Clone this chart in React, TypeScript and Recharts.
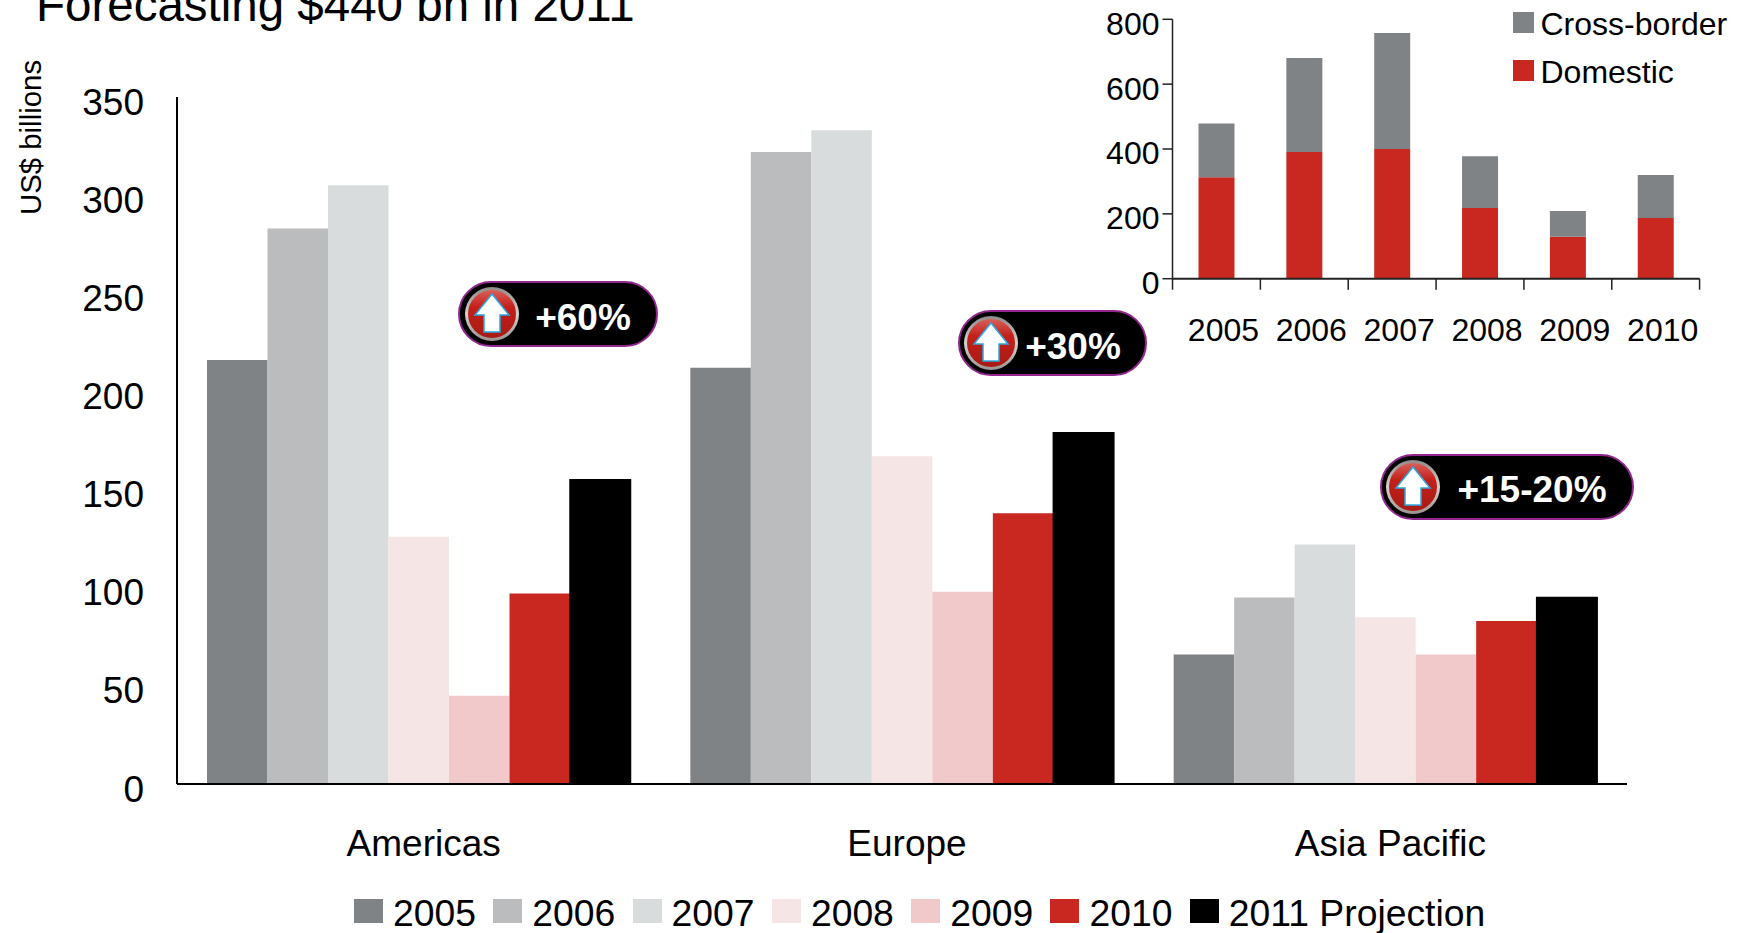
import { BarChart, Bar, XAxis, YAxis, Legend } from 'recharts'

const FONT = '"Liberation Sans", Arial, sans-serif'
const RED = '#C92820'
const GREY = '#808385'

const regions = ['Americas', 'Europe', 'Asia Pacific']
const yearKeys = ['y2005', 'y2006', 'y2007', 'y2008', 'y2009', 'y2010', 'y2011']
const yearNames = ['2005', '2006', '2007', '2008', '2009', '2010', '2011 Projection']
const yearColors = [GREY, '#BBBCBE', '#D9DCDD', '#F6E5E5', '#F1C9CB', RED, '#000000']
const values2005 = [216, 212, 66]
const values2006 = [283, 322, 95]
const values2007 = [305, 333, 122]
const values2008 = [126, 167, 85]
const values2009 = [45, 98, 66]
const values2010 = [97, 138, 83]
const values2011 = [155, 179, 95]
const yearValues = [values2005, values2006, values2007, values2008, values2009, values2010, values2011]
const regionTicks = [0, 50, 100, 150, 200, 250, 300, 350]

const insetYears = ['2005', '2006', '2007', '2008', '2009', '2010']
const domestic = [313, 391, 400, 218, 129, 187]
const crossBorder = [166, 290, 358, 160, 80, 133]
const insetTicks = [0, 200, 400, 600, 800]

const regionData = regions.map((region, i) => {
    const row: Record<string, string | number> = { region }
    yearKeys.forEach((key, k) => {
        row[key] = yearValues[k][i]
    })
    return row
})

const insetData = insetYears.map((year, i) => ({
    year,
    domestic: domestic[i],
    crossBorder: crossBorder[i]
}))

const badgeLabels = ['+60%', '+30%', '+15-20%']
const badgeBoxes = [
    { x: 459, y: 282, w: 198, h: 64, iconX: 492, textX: 583, textY: 16 },
    { x: 959, y: 311, w: 187, h: 64, iconX: 991, textX: 1073, textY: 16 },
    { x: 1381, y: 455, w: 252, h: 64, iconX: 1413, textX: 1532, textY: 15 }
]

const INSET_BAND = 87.8

function MainLegend({ payload }: any) {
    return (
        <div style={{ display: 'flex', fontFamily: FONT, fontSize: 37.3, color: '#000', whiteSpace: 'nowrap' }}>
            {(payload || []).map((item: any) => (
                <div key={item.value} style={{ width: 139.3, flex: 'none', display: 'flex', height: 24 }}>
                    <span style={{ width: 29, height: 24, background: item.color, marginRight: 10, flex: 'none' }} />
                    <span style={{ lineHeight: '28px' }}>{item.value}</span>
                </div>
            ))}
        </div>
    )
}

function InsetLegend({ payload }: any) {
    return (
        <div style={{ fontFamily: FONT, fontSize: 32, color: '#000', whiteSpace: 'nowrap' }}>
            {(payload || []).map((item: any) => (
                <div key={item.value} style={{ display: 'flex', height: 48 }}>
                    <span style={{ width: 21, height: 21, background: item.color, marginRight: 6.5, flex: 'none' }} />
                    <span style={{ lineHeight: '25px' }}>{item.value}</span>
                </div>
            ))}
        </div>
    )
}

// labels sit right of the band centre and the tick marks on the band edges
function InsetTick({ x, y, index, payload }: any) {
    const left = x - INSET_BAND / 2
    return (
        <g>
            <line x1={left} x2={left} y1={y} y2={y + 11} stroke="#222" strokeWidth={1.5} />
            {index === insetYears.length - 1 && (
                <line x1={left + INSET_BAND} x2={left + INSET_BAND} y1={y} y2={y + 11} stroke="#222" strokeWidth={1.5} />
            )}
            <text x={x + 7} y={y + 62} textAnchor="middle" fontFamily={FONT} fontSize={32} fill="#000">
                {payload.value}
            </text>
        </g>
    )
}

function Badge({ label, box }: { label: string; box: (typeof badgeBoxes)[number] }) {
    const cy = box.y + box.h / 2
    return (
        <g>
            <rect x={box.x} y={box.y} width={box.w} height={box.h} rx={box.h / 2} fill="#000" stroke="#93278F" strokeWidth={2} />
            <circle cx={box.iconX} cy={cy} r={27} fill="url(#ringFill)" />
            <circle cx={box.iconX} cy={cy} r={24} fill="url(#discFill)" />
            <path
                transform={`translate(${box.iconX} ${cy})`}
                d="M0 -20 L17 1 L8 1 L8 18 L-8 18 L-8 1 L-17 1 Z"
                fill="#fff"
                stroke="#2AA9E0"
                strokeWidth={1.5}
            />
            <text x={box.textX} y={cy + box.textY} textAnchor="middle" fontFamily={FONT} fontSize={37} fontWeight={700} fill="#fff">
                {label}
            </text>
        </g>
    )
}

export default function App() {
    return (
        <div style={{ position: 'absolute', left: 0, top: 0, width: 1740, height: 933, overflow: 'hidden', background: '#fff' }}>
            <div style={{ position: 'absolute', left: 0, top: 0 }}>
                <BarChart
                    width={1740}
                    height={933}
                    data={regionData}
                    margin={{ top: 97, right: 113, left: 0, bottom: 0 }}
                    barSize={60.5}
                    barGap={0}
                >
                    <XAxis
                        dataKey="region"
                        height={149}
                        interval={0}
                        axisLine={{ stroke: '#000', strokeWidth: 2 }}
                        tickLine={false}
                        tickSize={0}
                        tickMargin={46}
                        dx={5}
                        tick={{ fill: '#000', fontSize: 37, fontFamily: FONT }}
                    />
                    <YAxis
                        width={177}
                        domain={[0, 350]}
                        ticks={regionTicks}
                        interval={0}
                        axisLine={{ stroke: '#000', strokeWidth: 2 }}
                        tickLine={false}
                        tickSize={0}
                        tickMargin={33}
                        dy={4.5}
                        tick={{ fill: '#000', fontSize: 37, fontFamily: FONT }}
                    />
                    <Legend
                        layout="horizontal"
                        verticalAlign="middle"
                        align="center"
                        content={<MainLegend />}
                        wrapperStyle={{ left: 354, top: 899, width: 1200, height: 30 }}
                    />
                    {yearKeys.map((key, k) => (
                        <Bar
                            key={key}
                            dataKey={key}
                            name={yearNames[k]}
                            fill={yearColors[k]}
                            stroke={k === 6 ? '#000000' : undefined}
                            strokeWidth={k === 6 ? 1.5 : 0}
                            isAnimationActive={false}
                        />
                    ))}
                </BarChart>
            </div>
            <div style={{ position: 'absolute', left: 1040, top: 0 }}>
                <BarChart
                    width={700}
                    height={400}
                    data={insetData}
                    margin={{ top: 19.3, right: 40.4, left: 0, bottom: 0 }}
                    barSize={36}
                >
                    <XAxis
                        dataKey="year"
                        height={121.3}
                        interval={0}
                        axisLine={{ stroke: '#222', strokeWidth: 2 }}
                        tickLine={false}
                        tickSize={0}
                        tickMargin={0}
                        tick={(props: any) => <InsetTick {...props} />}
                    />
                    <YAxis
                        width={132.5}
                        domain={[0, 800]}
                        ticks={insetTicks}
                        interval={0}
                        axisLine={{ stroke: '#222', strokeWidth: 1.5 }}
                        tickLine={{ stroke: '#222', strokeWidth: 1.5 }}
                        tickSize={10}
                        tickMargin={3}
                        dy={4}
                        tick={{ fill: '#000', fontSize: 32, fontFamily: FONT }}
                    />
                    <Legend
                        layout="horizontal"
                        verticalAlign="middle"
                        align="center"
                        itemSorter="value"
                        content={<InsetLegend />}
                        wrapperStyle={{ left: 473, top: 12, width: 227, height: 96 }}
                    />
                    <Bar dataKey="domestic" name="Domestic" stackId="deals" fill={RED} isAnimationActive={false} />
                    <Bar dataKey="crossBorder" name="Cross-border" stackId="deals" fill={GREY} isAnimationActive={false} />
                </BarChart>
            </div>
            <svg width={1740} height={933} style={{ position: 'absolute', left: 0, top: 0, pointerEvents: 'none' }}>
                <defs>
                    <linearGradient id="ringFill" x1="0" y1="0" x2="0" y2="1">
                        <stop offset="0%" stopColor="#8E8A88" />
                        <stop offset="50%" stopColor="#D8D2CE" />
                        <stop offset="100%" stopColor="#9A9490" />
                    </linearGradient>
                    <linearGradient id="discFill" x1="0" y1="0" x2="0" y2="1">
                        <stop offset="0%" stopColor="#D9605A" />
                        <stop offset="35%" stopColor="#C4201A" />
                        <stop offset="100%" stopColor="#A81A14" />
                    </linearGradient>
                </defs>
                <text x={36} y={21} fontFamily={FONT} fontSize={47.5} fill="#000">
                    Forecasting $440 bn in 2011
                </text>
                <text
                    transform="translate(41 137.5) rotate(-90)"
                    textAnchor="middle"
                    fontFamily={FONT}
                    fontSize={29.4}
                    fill="#000"
                >
                    US$ billions
                </text>
                {badgeLabels.map((label, i) => (
                    <Badge key={label} label={label} box={badgeBoxes[i]} />
                ))}
            </svg>
        </div>
    )
}
